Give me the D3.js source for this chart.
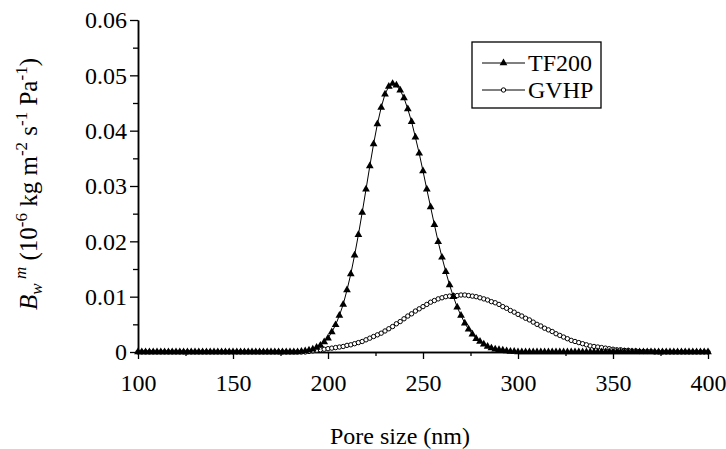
<!DOCTYPE html>
<html>
<head>
<meta charset="utf-8">
<script src="https://cdn.jsdelivr.net/npm/d3@7"></script>
<style>
  body { margin: 0; background: #fff; }
</style>
</head>
<body>
<script>
// pore size grid (nm)
const poreSize = [
  100, 102, 104, 106, 108, 110, 112, 114, 116, 118,
  120, 122, 124, 126, 128, 130, 132, 134, 136, 138,
  140, 142, 144, 146, 148, 150, 152, 154, 156, 158,
  160, 162, 164, 166, 168, 170, 172, 174, 176, 178,
  180, 182, 184, 186, 188, 190, 192, 194, 196, 198,
  200, 202, 204, 206, 208, 210, 212, 214, 216, 218,
  220, 222, 224, 226, 228, 230, 232, 234, 236, 238,
  240, 242, 244, 246, 248, 250, 252, 254, 256, 258,
  260, 262, 264, 266, 268, 270, 272, 274, 276, 278,
  280, 282, 284, 286, 288, 290, 292, 294, 296, 298,
  300, 302, 304, 306, 308, 310, 312, 314, 316, 318,
  320, 322, 324, 326, 328, 330, 332, 334, 336, 338,
  340, 342, 344, 346, 348, 350, 352, 354, 356, 358,
  360, 362, 364, 366, 368, 370, 372, 374, 376, 378,
  380, 382, 384, 386, 388, 390, 392, 394, 396, 398,
  400
];

const tf200 = [
  0, 0, 0, 0, 0, 0, 0, 0, 0, 0,
  0, 0, 0, 0, 0, 0, 0, 0, 0, 0,
  0, 0, 0, 0, 0, 0, 0, 0, 0, 0,
  0, 0, 0, 0, 0, 0, 0, 0, 0, 0,
  0, 0, 0, 0.0001, 0.0002, 0.0003, 0.0005, 0.0008, 0.0012, 0.0018,
  0.0025, 0.0036, 0.0049, 0.0066, 0.0086, 0.0112, 0.0141, 0.0175, 0.0212, 0.0252,
  0.0294, 0.0336, 0.0376, 0.0412, 0.0442, 0.0466, 0.0480, 0.0485, 0.0482, 0.0473,
  0.0459, 0.0439, 0.0416, 0.0388, 0.0359, 0.0327, 0.0294, 0.0262, 0.0230, 0.0199,
  0.0171, 0.0145, 0.0121, 0.0100, 0.0081, 0.0066, 0.0052, 0.0041, 0.0032, 0.0024,
  0.0019, 0.0014, 0.0010, 0.0007, 0.0005, 0.0004, 0.0003, 0.0002, 0.0001, 0.0001,
  0, 0, 0, 0, 0, 0, 0, 0, 0, 0,
  0, 0, 0, 0, 0, 0, 0, 0, 0, 0,
  0, 0, 0, 0, 0, 0, 0, 0, 0, 0,
  0, 0, 0, 0, 0, 0, 0, 0, 0, 0,
  0, 0, 0, 0, 0, 0, 0, 0, 0, 0,
  0
];

const gvhp = [
  0, 0, 0, 0, 0, 0, 0, 0, 0, 0,
  0, 0, 0, 0, 0, 0, 0, 0, 0, 0,
  0, 0, 0, 0, 0, 0, 0, 0, 0, 0,
  0, 0, 0, 0, 0, 0, 0, 0, 0, 0,
  0, 0, 0, 0, 0, 0.0001, 0.0002, 0.0003, 0.0004, 0.0005,
  0.0006, 0.0007, 0.0008, 0.0009, 0.0010, 0.0012, 0.0013, 0.0015, 0.0017, 0.0019,
  0.0022, 0.0025, 0.0028, 0.0031, 0.0034, 0.0038, 0.0042, 0.0046, 0.0051, 0.0055,
  0.0060, 0.0065, 0.0069, 0.0074, 0.0078, 0.0082, 0.0086, 0.0090, 0.0093, 0.0096,
  0.0098, 0.0100, 0.0101, 0.0102, 0.0102, 0.0103, 0.0103, 0.0102, 0.0101, 0.0100,
  0.0098, 0.0096, 0.0094, 0.0091, 0.0089, 0.0086, 0.0082, 0.0079, 0.0075, 0.0072,
  0.0068, 0.0065, 0.0061, 0.0058, 0.0054, 0.0050, 0.0047, 0.0043, 0.0040, 0.0037,
  0.0033, 0.0030, 0.0027, 0.0024, 0.0021, 0.0019, 0.0017, 0.0015, 0.0013, 0.0011,
  0.0010, 0.0009, 0.0008, 0.0007, 0.0006, 0.0005, 0.0004, 0.0004, 0.0003, 0.0003,
  0.0002, 0.0002, 0.0001, 0.0001, 0.0001, 0.0001, 0, 0, 0, 0,
  0, 0, 0, 0, 0, 0, 0, 0, 0, 0,
  0
];

const xMajor = [100, 150, 200, 250, 300, 350, 400];
const xMinor = [125, 175, 225, 275, 325, 375];
const yMajor = [0, 0.01, 0.02, 0.03, 0.04, 0.05, 0.06];
const yMinor = [0.005, 0.015, 0.025, 0.035, 0.045, 0.055];
const yLabels = ["0", "0.01", "0.02", "0.03", "0.04", "0.05", "0.06"];

const width = 726, height = 449;
const serif = '"Liberation Serif", "Times New Roman", serif';
const fontSize = 24;

const svg = d3.select("body").append("svg")
    .attr("width", width)
    .attr("height", height);

const x = d3.scaleLinear().domain([100, 400]).range([138, 708]);
const y = d3.scaleLinear().domain([0, 0.06]).range([352, 20]);

// x axis
svg.append("g")
    .attr("transform", "translate(0,352)")
    .call(d3.axisBottom(x).tickValues(xMinor).tickSize(4).tickSizeOuter(0).tickFormat(""));
svg.append("g")
    .attr("transform", "translate(0,352)")
    .call(d3.axisBottom(x).tickValues(xMajor).tickSize(7).tickSizeOuter(0).tickPadding(15).tickFormat(d3.format("d")));

// y axis
svg.append("g")
    .attr("transform", "translate(138,0)")
    .call(d3.axisLeft(y).tickValues(yMinor).tickSize(5).tickSizeOuter(0).tickFormat(""));
svg.append("g")
    .attr("transform", "translate(138,0)")
    .call(d3.axisLeft(y).tickValues(yMajor).tickSize(8).tickSizeOuter(0).tickPadding(3)
        .tickFormat((d, i) => yLabels[i]));

svg.selectAll(".domain").attr("stroke", "#000").attr("stroke-width", 1.5);
svg.selectAll(".tick line").attr("stroke", "#000").attr("stroke-width", 1.3);
svg.selectAll(".tick text")
    .style("font-family", serif)
    .style("font-size", fontSize + "px")
    .attr("fill", "#000");

const line = d3.line()
    .x(d => x(d[0]))
    .y(d => y(d[1]));

const gvhpData = poreSize.map((p, i) => [p, gvhp[i]]);
const tfData = poreSize.map((p, i) => [p, tf200[i]]);

const tri = d3.symbol().type(d3.symbolTriangle).size(26);

// GVHP series
svg.append("path")
    .datum(gvhpData)
    .attr("fill", "none")
    .attr("stroke", "#000")
    .attr("stroke-width", 1)
    .attr("d", line);
svg.append("g").selectAll("circle")
    .data(gvhpData)
    .enter().append("circle")
    .attr("cx", d => x(d[0]))
    .attr("cy", d => y(d[1]))
    .attr("r", 2.2)
    .attr("fill", "#fff")
    .attr("stroke", "#000")
    .attr("stroke-width", 1);

// TF200 series
svg.append("path")
    .datum(tfData)
    .attr("fill", "none")
    .attr("stroke", "#000")
    .attr("stroke-width", 1)
    .attr("d", line);
svg.append("g").selectAll("path")
    .data(tfData)
    .enter().append("path")
    .attr("transform", d => "translate(" + x(d[0]) + "," + y(d[1]) + ")")
    .attr("d", tri)
    .attr("fill", "#000");

// legend
const lg = svg.append("g");
lg.append("rect")
    .attr("x", 472).attr("y", 42)
    .attr("width", 129).attr("height", 66)
    .attr("fill", "#fff")
    .attr("stroke", "#000")
    .attr("stroke-width", 1.3);

const legendItems = [
    { name: "TF200", cy: 63 },
    { name: "GVHP", cy: 90 }
];
legendItems.forEach((it, i) => {
    lg.append("line")
        .attr("x1", 482).attr("x2", 525)
        .attr("y1", it.cy).attr("y2", it.cy)
        .attr("stroke", "#000").attr("stroke-width", 1);
    if (i === 0) {
        lg.append("path")
            .attr("transform", "translate(503.5," + it.cy + ")")
            .attr("d", tri).attr("fill", "#000");
    } else {
        lg.append("circle")
            .attr("cx", 503.5).attr("cy", it.cy).attr("r", 2.2)
            .attr("fill", "#fff").attr("stroke", "#000");
    }
    lg.append("text")
        .attr("x", 528).attr("y", it.cy)
        .attr("dy", "0.35em")
        .style("font-family", serif)
        .style("font-size", fontSize + "px")
        .text(it.name);
});

// x axis title
svg.append("text")
    .attr("x", 400).attr("y", 444)
    .attr("text-anchor", "middle")
    .style("font-family", serif)
    .style("font-size", fontSize + "px")
    .text("Pore size (nm)");

// y axis title
const yt = svg.append("text")
    .attr("transform", "translate(37,184) rotate(-90)")
    .attr("text-anchor", "middle")
    .style("font-family", serif)
    .style("font-size", "25px");
const sup = 17;
yt.append("tspan").attr("font-style", "italic").text("B");
yt.append("tspan").attr("font-style", "italic").style("font-size", sup + "px").attr("dy", 5).text("w");
yt.append("tspan").attr("font-style", "italic").style("font-size", sup + "px").attr("dy", -16).text(" m");
yt.append("tspan").attr("dy", 11).text("  (10");
yt.append("tspan").style("font-size", sup + "px").attr("dy", -10).text("-6");
yt.append("tspan").attr("dy", 10).text(" kg m");
yt.append("tspan").style("font-size", sup + "px").attr("dy", -10).text("-2");
yt.append("tspan").attr("dy", 10).text(" s");
yt.append("tspan").style("font-size", sup + "px").attr("dy", -10).text("-1");
yt.append("tspan").attr("dy", 10).text(" Pa");
yt.append("tspan").style("font-size", sup + "px").attr("dy", -10).text("-1");
yt.append("tspan").attr("dy", 10).text(")");
</script>
</body>
</html>
